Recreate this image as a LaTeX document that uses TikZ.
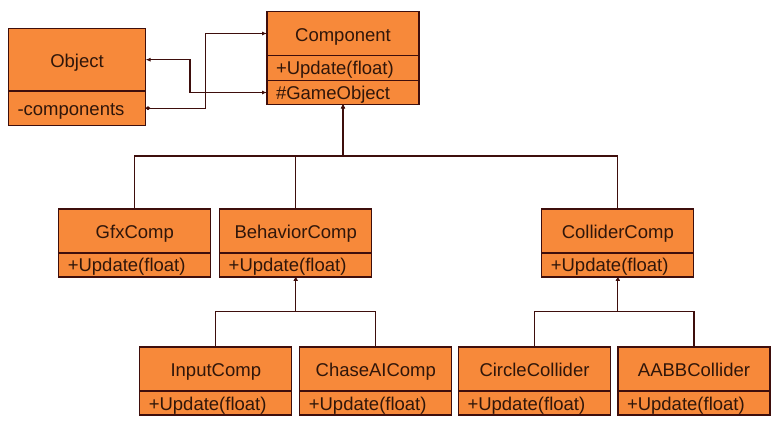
\documentclass[tikz,border=0pt]{standalone}
\usepackage{fontspec}
\setmainfont{Liberation Sans}
\usetikzlibrary{positioning,arrows.meta}
\definecolor{umlfill}{RGB}{247,137,58}
\definecolor{umlline}{RGB}{62,14,12}
\definecolor{umltext}{RGB}{48,22,10}
\def\umlfont{\fontsize{18.5}{20}\selectfont}
\tikzset{
	cls/.style={draw=umlline, fill=umlfill, line width=1.2pt, minimum width=152pt, minimum height=44pt, inner sep=0pt, outer sep=0pt, font=\umlfont, text=umltext, text height=16pt, text depth=0pt},
	mem/.style={cls, minimum height=24pt, inner xsep=9pt, text width=134pt, align=left, text height=14pt},
	inh/.style={draw=umlline, line width=1.2pt, -{Triangle[open,length=4pt,width=4pt]}},
	assoc/.style={draw=umlline, line width=1.2pt, {Latex[length=5pt,width=4pt]}-{Latex[length=5pt,width=4pt]}},
}

\begin{document}
\begin{tikzpicture}[x=1pt, y=-1pt]
			%%%%% START %%%%%
			\useasboundingbox (0, 0) rectangle (779, 427);
			
			% top classes
			\node[cls, minimum width=137pt, minimum height=62.7pt] (obj) at (77, 59.7) {Object};
			\node[mem, minimum width=137pt, minimum height=34.3pt, text width=119pt, below=0pt of obj] (objA) {-components};
			
			\node[cls] (comp) at (343, 33.5) {Component};
			\node[mem, minimum height=25pt, below=0pt of comp] (compA) {+Update(float)};
			\node[mem, below=0pt of compA] (compB) {\#GameObject};
			
			% second row
			\node[cls] (gfx) at (134.8, 231) {GfxComp};
			\node[mem, below=0pt of gfx] (gfxA) {+Update(float)};
			\node[cls] (beh) at (295.7, 231) {BehaviorComp};
			\node[mem, below=0pt of beh] (behA) {+Update(float)};
			\node[cls] (col) at (617.8, 231) {ColliderComp};
			\node[mem, below=0pt of col] (colA) {+Update(float)};
			
			% third row
			\node[cls] (inp) at (215.8, 369) {InputComp};
			\node[mem, below=0pt of inp] (inpA) {+Update(float)};
			\node[cls] (chase) at (375.8, 369) {ChaseAIComp};
			\node[mem, below=0pt of chase] (chaseA) {+Update(float)};
			\node[cls] (circ) at (534.5, 369) {CircleCollider};
			\node[mem, below=0pt of circ] (circA) {+Update(float)};
			\node[cls] (aabb) at (694, 369) {AABBCollider};
			\node[mem, below=0pt of aabb] (aabbA) {+Update(float)};
			
			% Object <-> Component
			\draw[assoc] (obj.east) -- ++(44.5, 0) |- (compB.west);
			\draw[assoc, {Diamond[length=5pt,width=4pt]}-{Latex[length=5pt,width=4pt]}] (objA.east) -- ++(60, 0) |- (comp.west);
			
			% inheritance
			\coordinate (busA) at (343, 156);
			\coordinate (busB) at (295.7, 311.7);
			\coordinate (busC) at (617.8, 311.7);
			
			\draw[inh] (gfx.north) |- (busA) -- (compB.south);
			\draw[inh] (beh.north) |- (busA) -- (compB.south);
			\draw[inh] (col.north) |- (busA) -- (compB.south);
			
			\draw[inh] (inp.north) |- (busB) -- (behA.south);
			\draw[inh] (chase.north) |- (busB) -- (behA.south);
			
			\draw[inh] (circ.north) |- (busC) -- (colA.south);
			\draw[inh] (aabb.north) |- (busC) -- (colA.south);
			%%%%% END %%%%%
\end{tikzpicture}
\end{document}
